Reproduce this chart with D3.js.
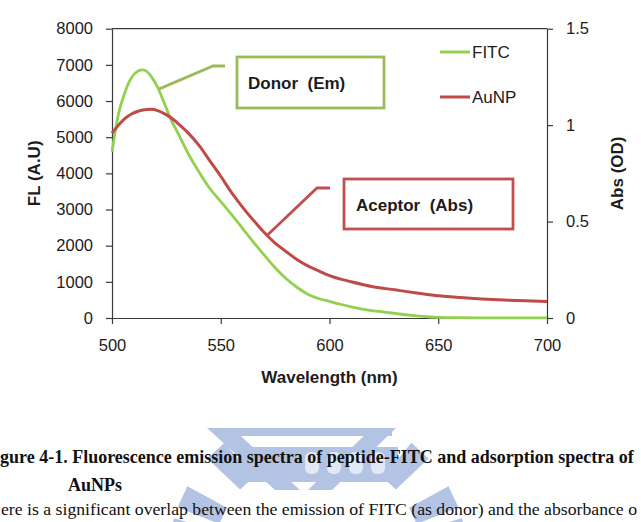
<!DOCTYPE html>
<html><head><meta charset="utf-8">
<script src="https://cdn.jsdelivr.net/npm/d3@7/dist/d3.min.js"></script>
<style>
body{margin:0;background:#fff}
svg{display:block}
</style>
</head><body>
<svg id="chart" width="641" height="522"></svg>
<script>
// ---- data ----
const fitcWavelength = [500,503,506,509,512,514,516,518,521,524,527,530,535,540,545,550,555,560,565,570,575,580,585,590,595,600,605,610,615,620,625,630,635,640,645,650,660,670,680,690,700];
const fitcFL =         [4600,5650,6250,6650,6830,6860,6820,6680,6380,5950,5500,5150,4550,4040,3580,3220,2860,2480,2100,1740,1390,1090,850,660,540,460,380,310,245,200,165,125,90,60,35,18,8,5,3,2,2];
const aunpWavelength = [500,503,506,509,512,515,518,521,524,527,530,535,540,545,550,555,560,565,570,575,580,585,590,595,600,610,620,630,640,650,660,670,680,690,700];
const aunpOD =         [0.958,1.000,1.035,1.058,1.072,1.080,1.082,1.075,1.060,1.040,1.012,0.960,0.895,0.815,0.735,0.650,0.575,0.507,0.443,0.388,0.345,0.303,0.270,0.244,0.220,0.188,0.162,0.146,0.130,0.115,0.106,0.099,0.093,0.089,0.086];
const xTickValues = [500,550,600,650,700];
const leftTickValues = [0,1000,2000,3000,4000,5000,6000,7000,8000];
const rightTickValues = [0,0.5,1,1.5];
const seriesNames = ["FITC","AuNP"];
const seriesColors = ["#92D050","#BE4B48"];
const boxLabels = ["Donor  (Em)","Aceptor  (Abs)"];
const boxColors = ["#9BBB59","#C0504D"];
const xTitle = "Wavelength (nm)";
const yLeftTitle = "FL (A.U)";
const yRightTitle = "Abs (OD)";
// caption text as visible in the (cropped) reference page
const captionLines = ["gure 4-1. Fluorescence emission spectra of peptide-FITC and adsorption spectra of","AuNPs"];
const bodyLine = "ere is a significant overlap between the emission of FITC (as donor) and the absorbance o";

// ---- layout ----
const L = 112, R = 547, T = 28.7, B = 318;
const svg = d3.select("#chart");
const x = d3.scaleLinear().domain([500,700]).range([L,R]);
const yL = d3.scaleLinear().domain([0,8000]).range([B,T]);
const yR = d3.scaleLinear().domain([0,1.5]).range([B,T]);
const sans = "'Liberation Sans', Arial, sans-serif";
const serif = "'Liberation Serif', 'Times New Roman', serif";
const axisColor = "#3a3a3a";
const textColor = "#1c1c1c";

// ---- watermark (faint logo) ----
const wm = svg.append("g").attr("fill","#b3c3e3");
const cx = 318, cy = 560;
[-155,-133,-47,-25].forEach(a=>{
  const r1=105, r2=150, w=9;
  const rad=a*Math.PI/180;
  const pts=[[r1,-w],[r2,-w*1.3],[r2,w*1.3],[r1,w]].map(([r,o])=>{
    const da=o/r;
    return [cx+r*Math.cos(rad+da), cy+r*Math.sin(rad+da)];
  });
  wm.append("path").attr("d","M"+pts.map(p=>p.join(",")).join("L")+"Z");
});
[[-168,110,150],[-12,110,150]].forEach(([a,r1,r2])=>{
  const rad=a*Math.PI/180;
  const pts=[[r1,-8],[r2,-11],[r2,11],[r1,8]].map(([r,o])=>{
    const da=o/r; return [cx+r*Math.cos(rad+da), cy+r*Math.sin(rad+da)];});
  wm.append("path").attr("d","M"+pts.map(p=>p.join(",")).join("L")+"Z");
});
wm.append("path").attr("d","M207,428 L232,428 L300,490 L275,490 Z");
wm.append("path").attr("d","M372,428 L396,428 L332,490 L308,490 Z");
wm.append("path").attr("d","M238,447 L398,447 L398,482 L238,482 Z");
wm.append("path").attr("d","M228,428 L392,428 L392,436 L228,436 Z");
const dg = svg.append("g").attr("fill","#e2e9f5");
[0,1,2,3].forEach(i=>{
  dg.append("rect").attr("x",305+i*22).attr("y",452).attr("width",14).attr("height",22).attr("rx",6);
});

// ---- caption ----
svg.append("text").attr("x",0).attr("y",463)
  .attr("font-family",serif).attr("font-size",18).attr("font-weight","bold")
  .attr("fill","#111").text(captionLines[0]);
svg.append("text").attr("x",68).attr("y",491)
  .attr("font-family",serif).attr("font-size",18).attr("font-weight","bold")
  .attr("fill","#111").text(captionLines[1]);
svg.append("text").attr("x",1).attr("y",515)
  .attr("font-family",serif).attr("font-size",17)
  .attr("textLength",636).attr("lengthAdjust","spacingAndGlyphs")
  .attr("fill","#111").text(bodyLine);

// ---- frame ----
svg.append("line").attr("x1",L).attr("x2",R).attr("y1",T).attr("y2",T)
  .attr("stroke",axisColor).attr("stroke-width",1.2);

// ---- axes ----
function styleAxis(g){
  g.selectAll(".domain").attr("stroke",axisColor).attr("stroke-width",1.2);
  g.selectAll(".tick line").attr("stroke",axisColor).attr("stroke-width",1.2);
  g.selectAll(".tick text").attr("fill",textColor).attr("font-family",sans).attr("font-size",16.5);
}
svg.append("g").attr("transform",`translate(${L},0)`)
  .call(d3.axisLeft(yL).tickValues(leftTickValues).tickSize(6).tickSizeOuter(0).tickPadding(13).tickFormat(d3.format("d")))
  .call(styleAxis);
svg.append("g").attr("transform",`translate(${R},0)`)
  .call(d3.axisRight(yR).tickValues(rightTickValues).tickSize(6).tickSizeOuter(0).tickPadding(13).tickFormat(d=>String(d)))
  .call(styleAxis);
svg.append("g").attr("transform",`translate(0,${B})`)
  .call(d3.axisBottom(x).tickValues(xTickValues).tickSize(6).tickSizeOuter(0).tickPadding(15).tickFormat(d3.format("d")))
  .call(styleAxis);

// ---- axis titles ----
svg.append("text").attr("x",(L+R)/2).attr("y",383).attr("text-anchor","middle")
  .attr("font-family",sans).attr("font-weight","bold").attr("font-size",17).attr("fill",textColor).text(xTitle);
svg.append("text").attr("transform",`translate(40,${(T+B)/2}) rotate(-90)`).attr("text-anchor","middle")
  .attr("font-family",sans).attr("font-weight","bold").attr("font-size",17).attr("fill",textColor).text(yLeftTitle);
svg.append("text").attr("transform",`translate(623,${(T+B)/2}) rotate(-90)`).attr("text-anchor","middle")
  .attr("font-family",sans).attr("font-weight","bold").attr("font-size",17).attr("fill",textColor).text(yRightTitle);

// ---- series ----
const fitcData = fitcWavelength.map((w,i)=>({w, v:fitcFL[i]}));
const aunpData = aunpWavelength.map((w,i)=>({w, v:aunpOD[i]}));
const lineL = d3.line().x(d=>x(d.w)).y(d=>yL(d.v)).curve(d3.curveMonotoneX);
const lineR = d3.line().x(d=>x(d.w)).y(d=>yR(d.v)).curve(d3.curveMonotoneX);
svg.append("path").datum(fitcData).attr("d",lineL).attr("fill","none")
  .attr("stroke",seriesColors[0]).attr("stroke-width",2.8).attr("stroke-linejoin","round");
svg.append("path").datum(aunpData).attr("d",lineR).attr("fill","none")
  .attr("stroke",seriesColors[1]).attr("stroke-width",3).attr("stroke-linejoin","round");

// ---- legend ----
const legY = [52,97];
seriesNames.forEach((n,i)=>{
  svg.append("line").attr("x1",440).attr("x2",470).attr("y1",legY[i]).attr("y2",legY[i])
    .attr("stroke",seriesColors[i]).attr("stroke-width",3);
  svg.append("text").attr("x",472).attr("y",legY[i]).attr("dy","0.35em")
    .attr("font-family",sans).attr("font-size",17).attr("fill",textColor).text(n);
});

// ---- annotation boxes with callout lines ----
const donorAnchor = {x:x(521.5), y:yL(6330)};
const accAnchor = {x:x(571.5), y:yR(0.43)};
svg.append("path").attr("d",`M${donorAnchor.x},${donorAnchor.y} L213,66 L225,66`)
  .attr("fill","none").attr("stroke",boxColors[0]).attr("stroke-width",2.8);
svg.append("rect").attr("x",237).attr("y",57).attr("width",147).attr("height",51)
  .attr("fill","#fff").attr("stroke",boxColors[0]).attr("stroke-width",2.8);
svg.append("text").attr("x",248).attr("y",89).style("white-space","pre")
  .attr("font-family",sans).attr("font-weight","bold").attr("font-size",17).attr("fill",textColor).text(boxLabels[0]);

svg.append("path").attr("d",`M${accAnchor.x},${accAnchor.y} L317,188 L330,188`)
  .attr("fill","none").attr("stroke",boxColors[1]).attr("stroke-width",2.8);
svg.append("rect").attr("x",344).attr("y",179).attr("width",169).attr("height",50)
  .attr("fill","#fff").attr("stroke",boxColors[1]).attr("stroke-width",2.8);
svg.append("text").attr("x",356).attr("y",211).style("white-space","pre")
  .attr("font-family",sans).attr("font-weight","bold").attr("font-size",17).attr("fill",textColor).text(boxLabels[1]);
</script>
</body></html>
